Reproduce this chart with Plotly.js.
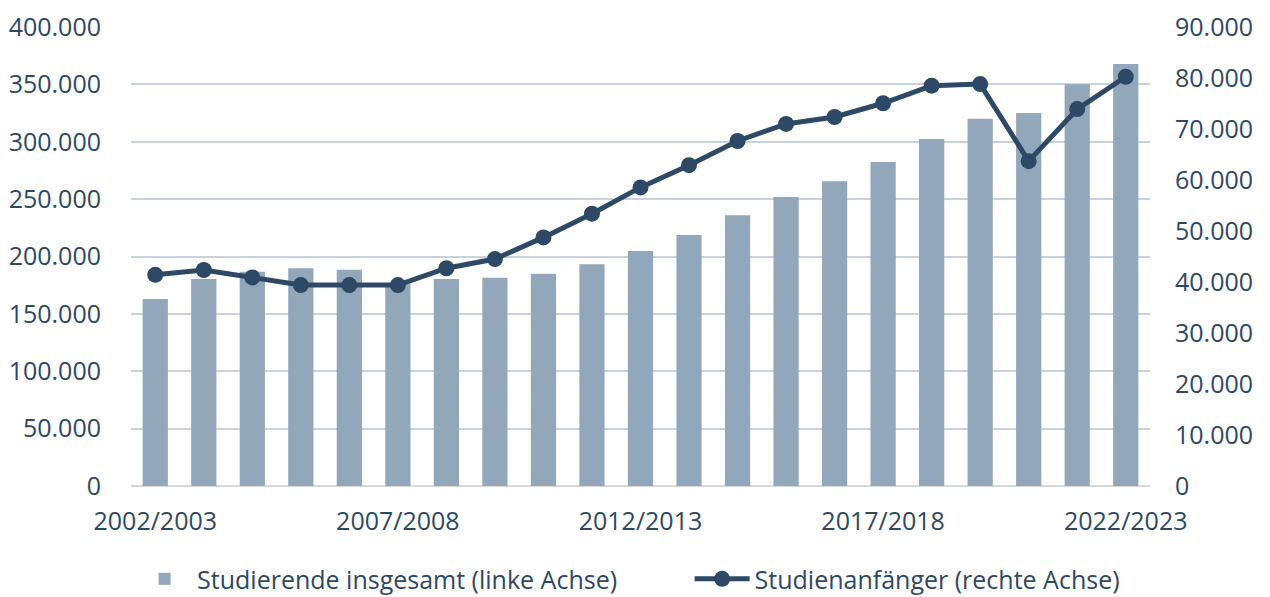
<!DOCTYPE html>
<html>
<head>
<meta charset="utf-8">
<script src="https://cdn.plot.ly/plotly-3.0.1.min.js"></script>
<style>
html,body{margin:0;padding:0;background:#fff;}
#chart{width:1270px;height:597px;}
</style>
</head>
<body>
<div id="chart"></div>
<script>
const categories = ["2002/2003","2003/2004","2004/2005","2005/2006","2006/2007","2007/2008","2008/2009","2009/2010","2010/2011","2011/2012","2012/2013","2013/2014","2014/2015","2015/2016","2016/2017","2017/2018","2018/2019","2019/2020","2020/2021","2021/2022","2022/2023"];
const studierende = [163000,180400,186800,189700,188500,176500,180400,181500,185000,193200,204800,218700,235900,251900,265500,282400,302400,320100,325100,350100,367800];
const anfaenger = [41400,42350,40900,39400,39400,39400,42700,44500,48750,53400,58550,62900,67650,71000,72350,75050,78500,78800,63700,73900,80250];
const xTickLabels = ["2002/2003","2007/2008","2012/2013","2017/2018","2022/2023"];
const seriesNames = ["Studierende insgesamt (linke Achse)","Studienanfänger (rechte Achse)"];

const txt = '#2d4864';
const grid = '#c6d3de';
const fontFam = '"Open Sans", "Noto Sans", sans-serif';

const traces = [
  {
    type: 'bar', x: categories, y: studierende, name: seriesNames[0],
    marker: {color: '#93a7ba'}, width: 0.52, yaxis: 'y', hoverinfo: 'skip', legend: 'legend'
  },
  {
    type: 'scatter', mode: 'lines+markers', x: categories, y: anfaenger, name: seriesNames[1],
    line: {color: '#2e4966', width: 5}, marker: {color: '#2e4966', size: 16},
    yaxis: 'y2', hoverinfo: 'skip', legend: 'legend2'
  }
];

const legendCommon = {
  orientation: 'h', xref: 'container', yref: 'container',
  xanchor: 'left', y: 0.03, yanchor: 'middle',
  font: {size: 25, color: txt}, itemwidth: 55,
  bgcolor: 'rgba(0,0,0,0)'
};

const layout = {
  width: 1270, height: 597,
  margin: {l: 131, r: 120, t: 27, b: 111, pad: 0, autoexpand: false},
  paper_bgcolor: '#fff', plot_bgcolor: '#fff',
  separators: ',.',
  font: {family: fontFam, size: 25, color: txt},
  showlegend: true,
  xaxis: {
    type: 'category', range: [-0.5, 20.5],
    tickmode: 'array', tickvals: xTickLabels, ticktext: xTickLabels,
    showgrid: false, zeroline: false, showline: false,
    ticks: 'outside', ticklen: 13, tickcolor: 'rgba(0,0,0,0)',
    tickfont: {size: 25, color: txt}, tickangle: 0
  },
  yaxis: {
    range: [0, 400000], dtick: 50000, tickformat: ',d',
    showgrid: true, gridcolor: grid, gridwidth: 2, zeroline: true, zerolinecolor: '#d3d9de', zerolinewidth: 2,
    showline: false, ticks: 'outside', ticklen: 24, tickcolor: 'rgba(0,0,0,0)',
    tickfont: {size: 25, color: txt}
  },
  yaxis2: {
    overlaying: 'y', side: 'right',
    range: [0, 90000], dtick: 10000, tickformat: ',d',
    showgrid: false, zeroline: false, showline: false,
    ticks: 'outside', ticklen: 19, tickcolor: 'rgba(0,0,0,0)',
    tickfont: {size: 25, color: txt}
  },
  legend: Object.assign({}, legendCommon, {x: 0.104}),
  legend2: Object.assign({}, legendCommon, {x: 0.543})
};

Plotly.newPlot('chart', traces, layout, {displayModeBar: false, staticPlot: true});
</script>
</body>
</html>
